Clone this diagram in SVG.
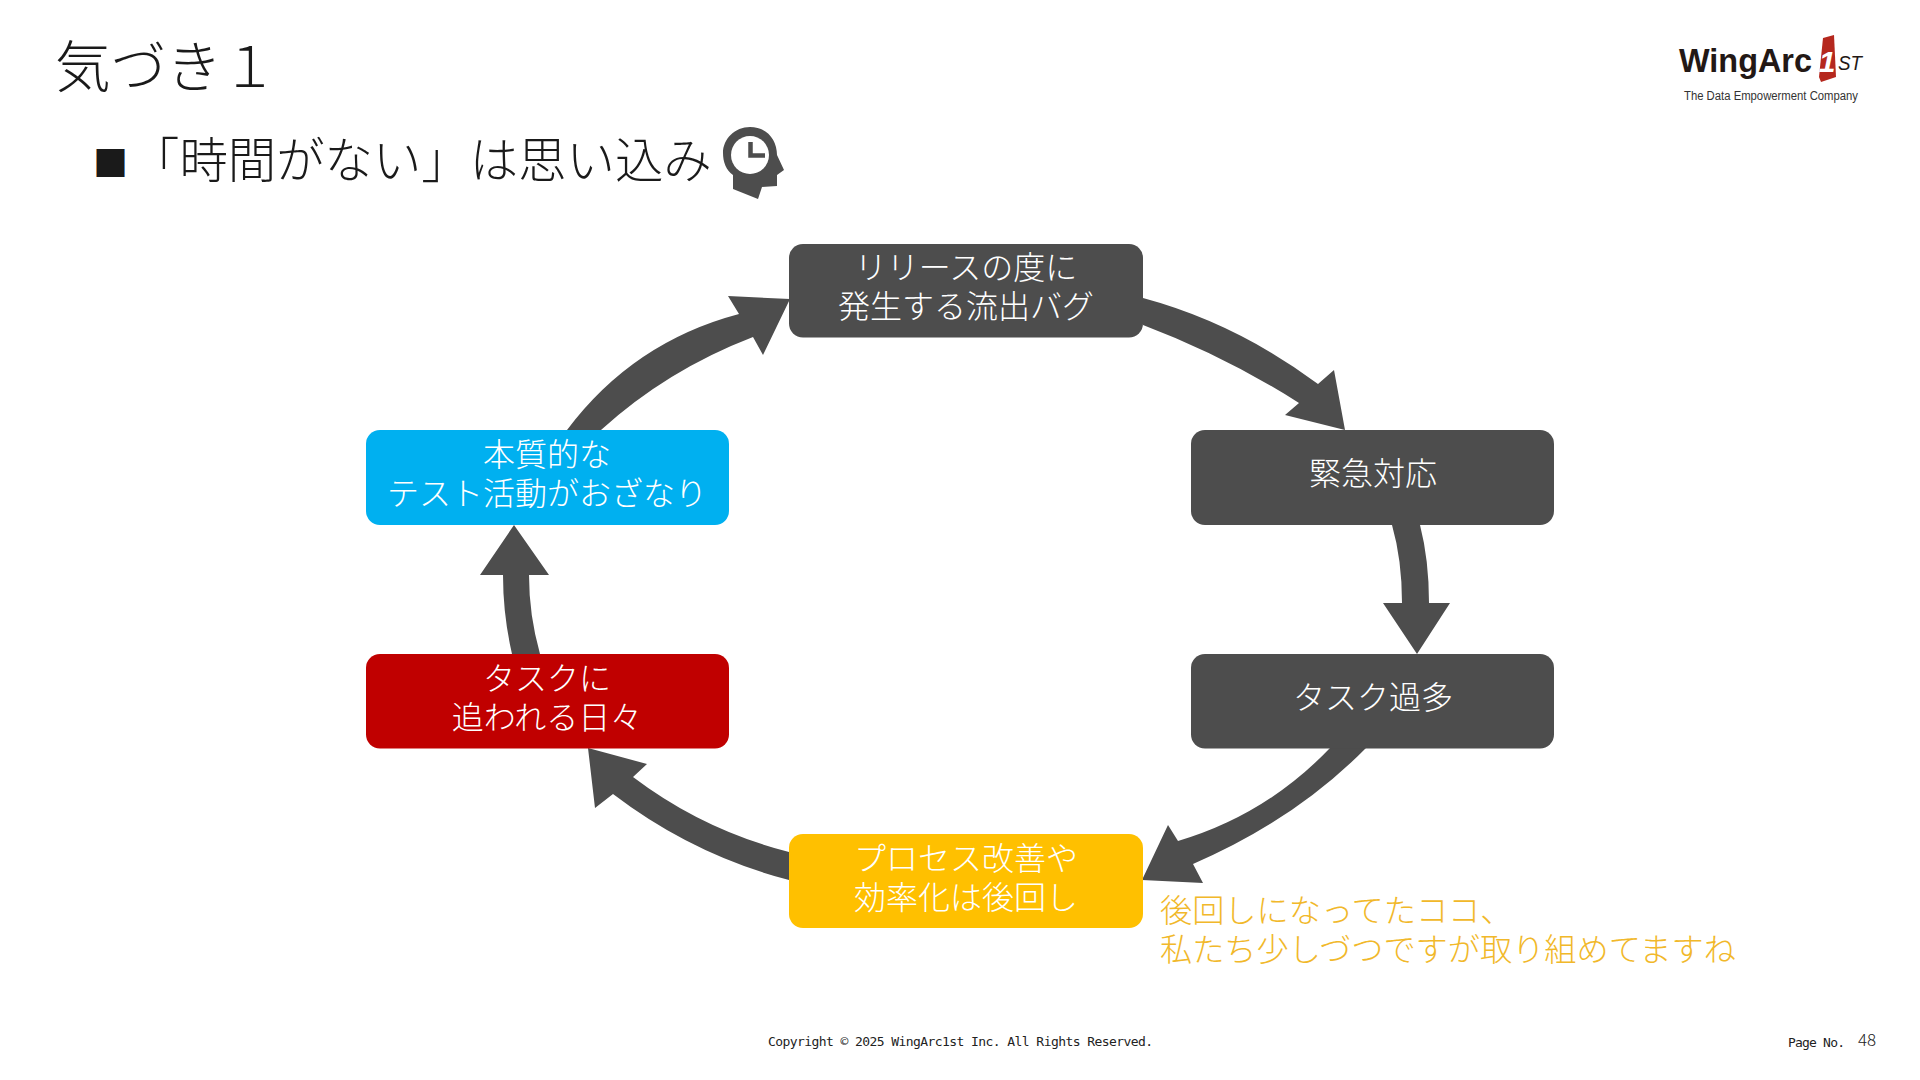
<svg xmlns="http://www.w3.org/2000/svg" width="1920" height="1080" viewBox="0 0 1920 1080">
<style>
text{font-family:"Noto Sans CJK JP","Noto Sans",sans-serif;font-weight:300}
.n{font-size:32px;fill:#fff;text-anchor:middle}
.a{fill:#4d4d4d}
.o{font-size:32.200px;fill:#f1b82a}
.f{font-family:"DejaVu Sans Mono",monospace;font-size:13px;fill:#222}
</style>
<rect width="1920" height="1080" fill="#fff"/>
<text x="55" y="87" font-size="55.600" fill="#1a1a1a">気づき１</text>
<text x="93" y="176" font-size="35" fill="#1a1a1a">■</text>
<text x="131" y="178" font-size="48.400" fill="#1a1a1a">「時間がない」は思い込み</text>
<g id="head-icon">
<path class="a" d="M750,127C767,127 777,140 777,155L784,170L777,175L777,186L762,187L758,199L733,189L733,175C726,170 723,162 723,153C723,139 735,127 750,127Z"/>
<circle cx="750" cy="155" r="19" fill="#fff"/>
<path d="M750.500,142V155.500H765" fill="none" stroke="#4d4d4d" stroke-width="4.500"/>
</g>
<g id="logo">
<text x="1679" y="72" style="font-family:'Liberation Sans',sans-serif;font-weight:700" font-size="33" fill="#231815" textLength="133" lengthAdjust="spacingAndGlyphs">WingArc</text>
<path d="M1823,38L1834,35L1836,77L1821,82L1819,77Z" fill="#b5281e"/>
<text x="1827" y="72" style="font-family:'Liberation Sans',sans-serif;font-weight:700;font-style:italic" font-size="30" fill="#fff" text-anchor="middle">1</text>
<text x="1838" y="70" style="font-family:'Liberation Sans',sans-serif;font-weight:400;font-style:italic" font-size="21" fill="#231815" textLength="24" lengthAdjust="spacingAndGlyphs">ST</text>
<text x="1684" y="100" style="font-family:'Liberation Sans',sans-serif;font-weight:400" font-size="12" fill="#333" textLength="174" lengthAdjust="spacingAndGlyphs">The Data Empowerment Company</text>
</g>
<g id="connectors">
<path class="a" d="M1143,298Q1236,323 1318,384L1334,370L1345,430L1285,415L1299,403Q1225,356 1143,325Z"/>
<path class="a" d="M1420,525Q1429,560 1429,603H1450L1417,654L1383,603H1402Q1402,560 1392,525Z"/>
<path class="a" d="M1366,748Q1295,820 1193,864L1203,883L1142,880L1168,825L1178,841Q1266,815 1330,748Z"/>
<path class="a" d="M789,852Q703,830 633,777L647,764L588,748L595,808L613,794Q693,855 789,880Z"/>
<path class="a" d="M512,654Q503,615 503,575H480L514,525L549,575H529Q529,615 540,654Z"/>
<path class="a" d="M567,430Q633,342 739,314L728,296L790,299L763,355L753,337Q667,370 601,430Z"/>
</g>
<g id="node-release"><rect x="789" y="244" width="354" height="93.500" rx="14" class="a"/>
<text class="n" x="966" y="279">リリースの度に</text><text class="n" x="966" y="318">発生する流出バグ</text></g>
<g id="node-urgent"><rect x="1191" y="430" width="363" height="95" rx="14" class="a"/>
<text class="n" x="1373" y="485">緊急対応</text></g>
<g id="node-tasks"><rect x="1191" y="654" width="363" height="94.500" rx="14" class="a"/>
<text class="n" x="1373" y="709">タスク過多</text></g>
<g id="node-process"><rect x="789" y="834" width="354" height="94" rx="14" fill="#ffc000"/>
<text class="n" x="966" y="870">プロセス改善や</text><text class="n" x="966" y="909">効率化は後回し</text></g>
<g id="node-daily"><rect x="366" y="654" width="363" height="94.500" rx="14" fill="#c00000"/>
<text class="n" x="547" y="690">タスクに</text><text class="n" x="547" y="729">追われる日々</text></g>
<g id="node-testing"><rect x="366" y="430" width="363" height="95" rx="14" fill="#00b0f0"/>
<text class="n" x="547" y="466">本質的な</text><text class="n" x="547" y="505">テスト活動がおざなり</text></g>
<g id="note"><text class="o" x="1160" y="922">後回しになってたココ、</text><text class="o" x="1160" y="961">私たち少しづつですが取り組めてますね</text></g>
<g id="footer">
<text class="f" x="768" y="1046" textLength="385">Copyright © 2025 WingArc1st Inc.  All Rights Reserved.</text>
<text class="f" x="1788" y="1047" textLength="57">Page No.</text>
<text x="1858" y="1046" font-size="17" fill="#222">48</text>
</g>
</svg>
